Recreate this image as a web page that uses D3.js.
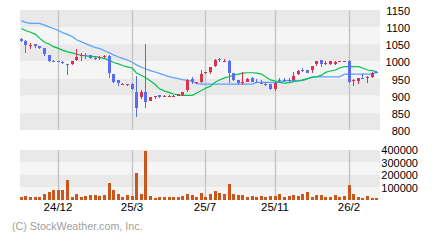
<!DOCTYPE html>
<html>
<head>
<meta charset="utf-8">
<script src="https://cdn.jsdelivr.net/npm/d3@7"></script>
<style>
  body { margin: 0; background: #fff; }
  svg { display: block; font-family: "Liberation Sans", Arial, sans-serif; }
</style>
</head>
<body>
<svg width="440" height="240"></svg>
<script>
// weekly candles, oldest first
var opens = [1064,1060,1045,1051,1045,1039,1019,1002,1000,999, 993,992,1005,1015,1018,1019,1011,1010,1014,1016,
  963,946,933,932,934,910,895,912,885,895, 901,898,898,899,899,901,917,948,937,941,
  965,968,987,1006,1000,1002,965,946,938,941, 953,940,937,935,934,919,947,947,945,946,
  963,976,975,975,992,1004,993,992,993,998, 999,1001,942,944,952,952,956,969];
var closes = [1061,1048,1047,1046,1040,1021,1002,1000,998,996, 991,1001,1012,1018,1016,1009,1009,1012,1016,965,
  941,938,935,934,920,865,912,883,895,898, 896,900,900,900,904,911,946,940,940,963,
  968,983,1004,1003,1001,967,946,937,940,948, 941,938,936,933,920,938,945,945,943,958,
  973,974,967,987,1001,992,995,1001,999,1000, 1001,941,946,951,950,955,967,967];
var highs = [1067,1062,1053,1052,1046,1040,1020,1003,1001,1000, 993,1002,1035,1025,1024,1020,1015,1015,1019,1018,
  964,947,937,935,937,958,917,1051,896,900, 902,901,901,902,905,912,949,955,941,974,
  969,984,1006,1009,1006,1003,967,947,970,951, 955,948,946,941,935,939,953,951,951,970,
  975,980,976,988,1002,1005,1001,1002,1000,1002, 1002,1004,949,952,963,957,970,971];
var lows = [1057,1025,1036,1040,1035,1017,999,999,997,992, 961,990,1002,1002,1007,1008,1003,1005,1009,953,
  936,929,931,929,917,839,890,865,884,890, 892,897,897,897,898,900,912,934,935,938,
  962,964,983,999,999,938,943,931,931,939, 939,936,934,928,917,914,938,941,938,944,
  960,968,965,965,988,985,990,990,991,997, 998,938,929,934,949,938,951,965];
var volumes = [24000,35000,27000,24000,24000,48000,64000,83000,83000,83000,
  163000,27000,48000,27000,35000,40000,40000,35000,40000,136000,
  83000,48000,27000,40000,32000,216000,48000,392000,32000,19000,
  24000,24000,24000,24000,24000,32000,48000,40000,24000,53000,
  27000,48000,72000,56000,48000,128000,48000,40000,40000,27000,
  35000,27000,35000,27000,35000,32000,48000,27000,35000,40000,
  35000,48000,64000,27000,40000,40000,27000,27000,40000,27000,
  35000,120000,48000,27000,19000,35000,19000,19000];
var maShort = [1096,1090,1085,1079,1068,1056,1050,1043,1038,1033, 1028,1025,1021,1018,1016,1015,1014,1012,1008,1003,
  997,993,988,984,980,966,959,953,943,932, 920,914,909,905,902,901,901,901,908,915,
  922,928,940,946,952,956,960,963,966,967, 967,966,963,955,946,943,939,937,938,941,
  943,946,950,954,955,960,968,972,975,981, 985,985,985,985,981,975,973,970];
var maLong = [1119,1114,1111,1111,1111,1106,1100,1096,1090,1084, 1079,1072,1063,1057,1052,1046,1040,1038,1031,1025,
  1019,1013,1009,1004,997,990,983,978,973,969, 965,960,955,953,950,947,945,943,935,934,
  934,934,934,934,934,934,934,934,934,934, 934,939,939,939,939,939,939,944,944,944,
  944,944,949,955,955,955,955,955,955,955, 963,963,963,963,963,963,963,968];
var tickIdx = [8, 24, 40, 55, 71];
var tickLabels = ["24/12", "25/3", "25/7", "25/11", "26/2"];
var priceTicks = [800, 850, 900, 950, 1000, 1050, 1100, 1150];
var volTicks = [100000, 200000, 300000, 400000];

var svg = d3.select("svg"),
    left = 20, right = 380;

var idx = d3.range(opens.length);
var x = d3.scaleBand().domain(idx).range([18.5, 378.5]);
var cx = function(i) { return Math.round(x(i) + x.bandwidth() / 2); };
var y = d3.scaleLinear().domain([800, 1150]).range([130, 10]);
var yv = d3.scaleLinear().domain([0, 400000]).range([200, 150]);

// background bands
var bands = d3.range(7);
svg.append("g").selectAll("rect")
  .data(bands)
  .enter().append("rect")
    .attr("x", left)
    .attr("width", right - left)
    .attr("y", function(d) { return y(1150 - d * 50); })
    .attr("height", y(1100) - y(1150))
    .attr("fill", function(d) { return d % 2 == 0 ? "#e9e9e9" : "#f5f5f5"; });

svg.append("g").selectAll("rect")
  .data(d3.range(4))
  .enter().append("rect")
    .attr("x", left)
    .attr("width", right - left)
    .attr("y", function(d) { return yv(400000 - d * 100000); })
    .attr("height", yv(0) - yv(100000))
    .attr("fill", function(d) { return d % 2 == 0 ? "#e9e9e9" : "#f5f5f5"; });

// month grid lines
tickIdx.forEach(function(i) {
  [[10, 130], [150, 200]].forEach(function(r) {
    svg.append("line")
      .attr("x1", cx(i) + 0.5).attr("x2", cx(i) + 0.5)
      .attr("y1", r[0]).attr("y2", r[1])
      .attr("stroke", "#c4c4c4")
      .attr("stroke-width", 1.4);
  });
});

// moving averages
var line = function(arr) {
  return d3.line()
    .x(function(d, i) { return cx(i) + 0.5; })
    .y(function(d) { return y(d); })(arr);
};
svg.append("path").attr("d", line(maLong))
  .attr("fill", "none").attr("stroke", "#58a2ff").attr("stroke-width", 1.2);
svg.append("path").attr("d", line(maShort))
  .attr("fill", "none").attr("stroke", "#00c252").attr("stroke-width", 1.2);

// candles
var col = function(i) { return closes[i] >= opens[i] ? "#dc2f52" : "#5a6cf2"; };
var candle = svg.append("g").attr("shape-rendering", "crispEdges");
candle.selectAll("line")
  .data(idx)
  .enter().append("line")
    .attr("x1", function(i) { return cx(i) + 0.5; })
    .attr("x2", function(i) { return cx(i) + 0.5; })
    .attr("y1", function(i) { return y(highs[i]); })
    .attr("y2", function(i) { return y(lows[i]); })
    .attr("stroke", col);
candle.selectAll("rect")
  .data(idx)
  .enter().append("rect")
    .attr("x", function(i) { return cx(i) - 1; })
    .attr("width", 3)
    .attr("y", function(i) { return y(Math.max(opens[i], closes[i])); })
    .attr("height", function(i) { return Math.max(1, Math.abs(y(opens[i]) - y(closes[i]))); })
    .attr("fill", col);

// volume
svg.append("g").attr("shape-rendering", "crispEdges")
  .selectAll("rect")
  .data(idx)
  .enter().append("rect")
    .attr("x", function(i) { return cx(i) - 1; })
    .attr("width", 3)
    .attr("y", function(i) { return yv(volumes[i]); })
    .attr("height", function(i) { return yv(0) - yv(volumes[i]); })
    .attr("fill", "#c9561a");

// axes text
svg.append("g").selectAll("text")
  .data(priceTicks)
  .enter().append("text")
    .attr("x", 410)
    .attr("y", function(d) { return y(d) + 5; })
    .attr("text-anchor", "end")
    .attr("font-size", 11)
    .attr("fill", "#000")
    .text(function(d) { return d; });

svg.append("g").selectAll("text")
  .data(volTicks)
  .enter().append("text")
    .attr("x", 418)
    .attr("y", function(d) { return yv(d) + 4; })
    .attr("text-anchor", "end")
    .attr("font-size", 11)
    .attr("fill", "#000")
    .text(function(d) { return d; });

svg.append("g").selectAll("text")
  .data(tickIdx)
  .enter().append("text")
    .attr("x", function(i) { return cx(i); })
    .attr("y", 211)
    .attr("text-anchor", "middle")
    .attr("font-size", 11.5)
    .attr("fill", "#000")
    .text(function(d, k) { return tickLabels[k]; });

svg.append("text")
  .attr("x", 12)
  .attr("y", 230)
  .attr("font-size", 10.7)
  .attr("fill", "#a0a0a0")
  .text("(C) StockWeather.com, Inc.");
</script>
</body>
</html>
